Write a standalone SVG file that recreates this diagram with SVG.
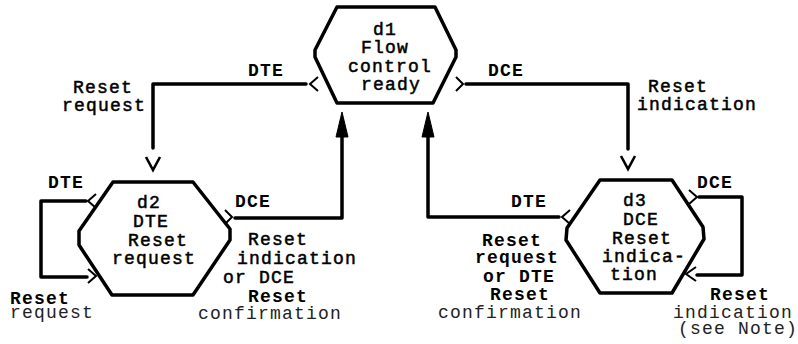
<svg xmlns="http://www.w3.org/2000/svg" width="798" height="344" viewBox="0 0 798 344">
  <style>
    .state { fill: none; stroke: #000; stroke-width: 3.5; stroke-linejoin: round; }
    .line { fill: none; stroke: #000; stroke-width: 3.5; stroke-linejoin: round; stroke-linecap: round; }
    .chev { fill: none; stroke: #000; stroke-width: 2; stroke-linejoin: miter; }
    .vee { fill: none; stroke: #000; stroke-width: 2.6; stroke-linejoin: miter; }
    .head { fill: #000; stroke: #000; stroke-width: 1; }
    text { font-family: "Liberation Mono", "DejaVu Sans Mono", monospace; font-size: 18px; letter-spacing: 1.2px; fill: #000; }
    .m { stroke: #000; stroke-width: 0.5; }
    .b { font-weight: bold; }
    .l { fill: #222; }
  </style>

  <!-- state d1 -->
  <g id="d1">
    <path class="state" d="M337,7 L435,7 L456,50 L456,57 L433,103 L337,103 L315,57 L315,50 Z"/>
    <text class="m" x="373" y="35">d1</text>
    <text class="m" x="361" y="53">Flow</text>
    <text class="m" x="348" y="72">control</text>
    <text class="m" x="361" y="90">ready</text>
  </g>

  <!-- state d2 -->
  <g id="d2">
    <path class="state" d="M113,182 L193,182 L230,229 L230,240 L193,295 L112,295 L79,245 L79,231 Z"/>
    <text class="m" x="137" y="208">d2</text>
    <text class="m" x="133" y="227">DTE</text>
    <text class="m" x="128" y="246">Reset</text>
    <text class="m" x="112" y="264">request</text>
  </g>

  <!-- state d3 -->
  <g id="d3">
    <path class="state" d="M600,180 L672,180 L703,227 L704,239 L672,293 L600,293 L566,240 L567,228 Z"/>
    <text class="m" x="623" y="206">d3</text>
    <text class="m" x="623" y="225">DCE</text>
    <text class="m" x="612" y="244">Reset</text>
    <text class="m" x="602" y="262">indica-</text>
    <text class="m" x="610" y="280">tion</text>
  </g>

  <!-- transitions -->
  <g id="connectors">
    <!-- d1 to d2: DTE Reset request -->
    <polyline class="chev" points="318,77 310,84 318,91"/>
    <path class="line" d="M306,84 H153 V148"/>
    <polyline class="vee" points="146,157 153,170 160,157"/>

    <!-- d1 to d3: DCE Reset indication -->
    <polyline class="chev" points="456,77 463,84 456,91"/>
    <path class="line" d="M466,84 H628 V149"/>
    <polyline class="vee" points="621,156 628,169 635,156"/>

    <!-- d2 to d1: DCE Reset indication or DCE Reset confirmation -->
    <polyline class="chev" points="225,210 232,217 225,224"/>
    <path class="line" d="M235,218 H342 V134"/>
    <polygon class="head" points="342,112 336,137 348,137"/>

    <!-- d3 to d1: DTE Reset request or DTE Reset confirmation -->
    <polyline class="chev" points="570,210 562,217 570,224"/>
    <path class="line" d="M559,217 H428 V134"/>
    <polygon class="head" points="428,112 422,137 434,137"/>

    <!-- d2 self loop: DTE Reset request -->
    <polyline class="chev" points="96,194 88,201 96,208"/>
    <path class="line" d="M86,201 H41 V277 H87"/>
    <polyline class="chev" points="88,269 96,276 88,283"/>

    <!-- d3 self loop: DCE Reset indication -->
    <polyline class="chev" points="689,190 697,197 689,204"/>
    <path class="line" d="M699,197 H742 V275 H697"/>
    <polyline class="chev" points="696,267 686,274 696,281"/>
  </g>

  <!-- transition labels -->
  <g id="labels">
    <text class="b" x="248" y="76">DTE</text>
    <text class="m" x="73" y="93">Reset</text>
    <text class="m" x="62" y="111">request</text>

    <text class="b" x="488" y="76">DCE</text>
    <text class="m" x="648" y="92">Reset</text>
    <text class="m" x="637" y="110">indication</text>

    <text class="b" x="48" y="188">DTE</text>
    <text class="b" x="10" y="304">Reset</text>
    <text class="l" x="10" y="318">request</text>

    <text class="b" x="235" y="207">DCE</text>
    <text class="m" x="248" y="245">Reset</text>
    <text class="m" x="237" y="264">indication</text>
    <text class="m" x="223" y="283">or DCE</text>
    <text class="b" x="248" y="302">Reset</text>
    <text class="l" x="198" y="319">confirmation</text>

    <text class="b" x="511" y="207">DTE</text>
    <text class="b" x="482" y="246">Reset</text>
    <text class="b" x="475" y="263">request</text>
    <text class="b" x="483" y="282">or DTE</text>
    <text class="b" x="490" y="300">Reset</text>
    <text class="l" x="438" y="318">confirmation</text>

    <text class="b" x="697" y="188">DCE</text>
    <text class="b" x="710" y="300">Reset</text>
    <text class="l" x="673" y="318">indication</text>
    <text class="l" x="678" y="334">(see Note)</text>
  </g>
</svg>
